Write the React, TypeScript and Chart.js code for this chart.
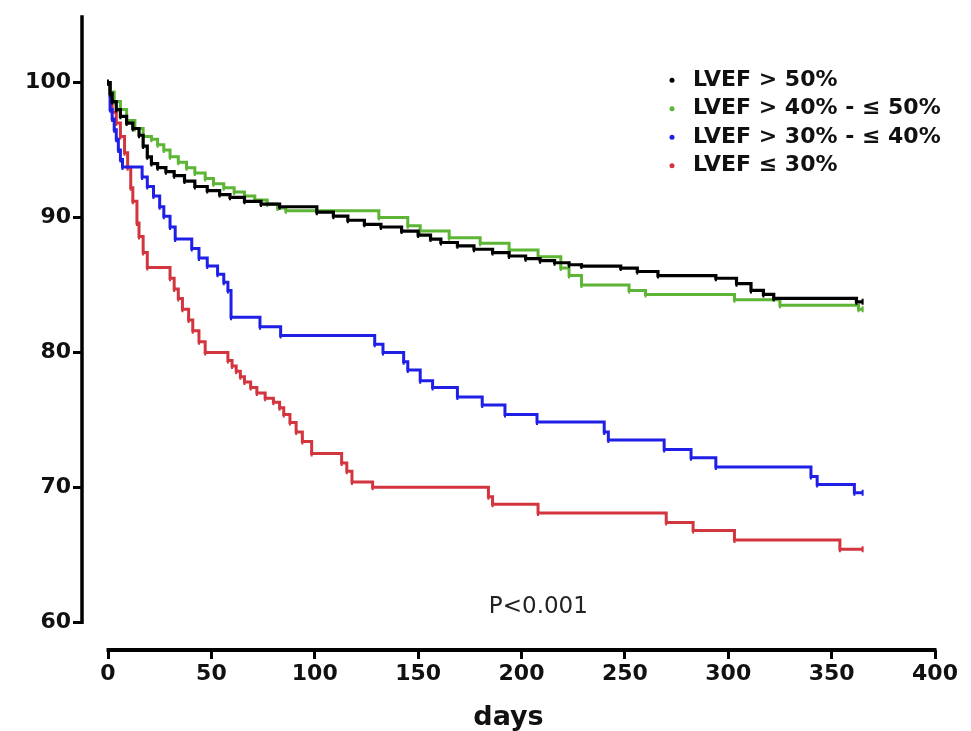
import React, { useEffect, useRef } from "react";
import { Chart, registerables } from "chart.js";

Chart.register(...registerables);

// ---- data ----
const xTicks = [0, 50, 100, 150, 200, 250, 300, 350, 400];
const yTicks = [60, 70, 80, 90, 100];
const seriesLabels = ["LVEF > 50%", "LVEF > 40% - \u2264 50%", "LVEF > 30% - \u2264 40%", "LVEF \u2264 30%"];
const seriesColors = ["#000000", "#5cb534", "#1f1fe6", "#d3353f"];
const xTitle = "days";
const pText = "P<0.001";

const blackDays = [0, 1, 2, 4, 6, 9, 12, 15, 17, 19, 21, 24, 28, 32, 37, 42, 48, 54, 59, 66, 74, 83, 101, 109, 116, 124, 132, 142, 150, 156, 161, 169, 177, 186, 194, 202, 209, 216, 223, 229, 248, 256, 266, 294, 304, 311, 317, 322, 362, 365];
const blackSurv = [100, 99.2, 98.6, 98.0, 97.5, 97.0, 96.6, 96.1, 95.3, 94.5, 94.0, 93.7, 93.4, 93.1, 92.7, 92.3, 92.0, 91.7, 91.5, 91.2, 91.0, 90.8, 90.4, 90.1, 89.8, 89.5, 89.3, 89.0, 88.7, 88.4, 88.15, 87.9, 87.65, 87.4, 87.15, 86.95, 86.8, 86.65, 86.5, 86.4, 86.25, 86.0, 85.7, 85.5, 85.1, 84.6, 84.3, 84.0, 83.75, 83.75];

const greenDays = [0, 1, 3, 6, 9, 13, 17, 21, 24, 27, 30, 34, 38, 42, 47, 51, 56, 61, 66, 71, 77, 82, 86, 131, 145, 151, 165, 180, 194, 208, 219, 223, 229, 252, 260, 303, 325, 363, 365];
const greenSurv = [100, 99.3, 98.6, 98.0, 97.2, 96.6, 96.0, 95.8, 95.4, 95.0, 94.5, 94.1, 93.7, 93.3, 92.9, 92.5, 92.2, 91.9, 91.6, 91.3, 91.0, 90.7, 90.5, 90.0, 89.4, 89.0, 88.5, 88.1, 87.6, 87.1, 86.25, 85.7, 85.0, 84.6, 84.3, 83.9, 83.5, 83.2, 83.2];

const blueDays = [0, 1, 2, 3, 4, 5, 6, 7, 16.5, 19, 22, 25, 27, 30, 32.5, 40.5, 44, 48, 53, 56, 58, 59.5, 73.5, 83.5, 129, 133, 143, 145, 151, 157, 169, 181, 192, 207.5, 240, 242, 269, 282, 294, 340, 343, 361, 365];
const blueSurv = [100, 98.0, 97.3, 96.5, 95.8, 95.0, 94.3, 93.75, 93.0, 92.3, 91.6, 90.8, 90.1, 89.3, 88.4, 87.7, 87.0, 86.4, 85.8, 85.2, 84.6, 82.6, 81.9, 81.25, 80.6, 80.0, 79.3, 78.7, 77.9, 77.4, 76.7, 76.1, 75.4, 74.85, 74.1, 73.5, 72.8, 72.2, 71.5, 70.8, 70.2, 69.6, 69.6];

const redDays = [0, 1, 2, 4, 6, 8, 9.5, 11, 12, 14, 15, 17, 19, 30, 32, 34, 36, 39, 41, 44, 47, 58, 60, 62, 64, 66, 69, 72, 76, 80, 83, 85, 88, 91, 94, 98.5, 113, 115.5, 118, 128, 184, 186, 208, 270, 283, 303, 354, 365];
const redSurv = [100, 99.0, 97.8, 97.0, 96.0, 94.8, 93.7, 92.2, 91.2, 89.6, 88.6, 87.4, 86.3, 85.5, 84.7, 84.0, 83.2, 82.4, 81.6, 80.8, 80.0, 79.4, 79.0, 78.6, 78.2, 77.8, 77.4, 77.0, 76.6, 76.3, 75.9, 75.4, 74.8, 74.1, 73.4, 72.5, 71.8, 71.2, 70.4, 70.0, 69.3, 68.75, 68.1, 67.4, 66.8, 66.1, 65.4, 65.4];

const seriesDays = [blackDays, greenDays, blueDays, redDays];
const seriesSurv = [blackSurv, greenSurv, blueSurv, redSurv];

const TICK_FONT = "'DejaVu Sans', 'Liberation Sans', Arial, sans-serif";

const overlayPlugin = {
  id: "gpOverlay",
  afterDraw(chart: any) {
    const { ctx, chartArea, scales } = chart;
    const xs = scales.x;
    const ys = scales.y;
    ctx.save();
    // GraphPad-style offset axes
    ctx.strokeStyle = "#000";
    ctx.lineWidth = 3.5;
    ctx.lineCap = "butt";
    ctx.beginPath();
    ctx.moveTo(chartArea.left, chartArea.top);
    ctx.lineTo(chartArea.left, ys.getPixelForValue(yTicks[0]) + 1.75);
    ctx.stroke();
    ctx.lineWidth = 4;
    ctx.beginPath();
    ctx.moveTo(xs.getPixelForValue(xTicks[0]) - 1.5, chartArea.bottom);
    ctx.lineTo(xs.getPixelForValue(xTicks[xTicks.length - 1]) + 1.5, chartArea.bottom);
    ctx.stroke();

    // legend
    const lx = chartArea.right - 242;
    const ly0 = chartArea.top + 65;
    const step = 28.5;
    ctx.font = `bold 22px ${TICK_FONT}`;
    ctx.textBaseline = "middle";
    ctx.textAlign = "left";
    chart.data.datasets.forEach((ds: any, i: number) => {
      const yy = ly0 + i * step;
      ctx.fillStyle = ds.borderColor;
      ctx.beginPath();
      ctx.arc(lx - 21, yy, 2.5, 0, Math.PI * 2);
      ctx.fill();
      ctx.fillStyle = "#111";
      ctx.fillText(ds.label, lx, yy);
    });

    // p-value
    ctx.font = `23px ${TICK_FONT}`;
    ctx.fillStyle = "#222";
    ctx.textAlign = "center";
    ctx.fillText(pText, chartArea.left + (chartArea.right - chartArea.left) * 0.535, 607);
    ctx.restore();
  },
};

export default function App() {
  const ref = useRef<HTMLCanvasElement | null>(null);

  useEffect(() => {
    document.body.style.margin = "0";
    document.body.style.overflow = "hidden";
    const canvas = ref.current;
    if (!canvas) return;
    const datasets = seriesLabels.map((label, i) => ({
      label,
      data: seriesDays[i].map((d, j) => ({ x: d, y: seriesSurv[i][j] })),
      borderColor: seriesColors[i],
      backgroundColor: seriesColors[i],
      borderWidth: i === 0 ? 3.2 : 3,
      stepped: true,
      fill: false,
      pointStyle: "line",
      pointRotation: 90,
      pointRadius: 3,
      pointBorderWidth: 2,
      pointHoverRadius: 3,
      order: i,
    }));
    const chart = new Chart(canvas, {
      type: "line",
      data: { datasets },
      options: {
        animation: false,
        responsive: true,
        maintainAspectRatio: false,
        layout: { padding: { left: 0, right: 36, top: 10, bottom: 0 } },
        plugins: { legend: { display: false }, tooltip: { enabled: false } },
        scales: {
          x: {
            type: "linear",
            min: -12.58,
            max: 400,
            afterBuildTicks: (axis: any) => {
              axis.ticks = xTicks.map((v) => ({ value: v }));
            },
            afterFit: (axis: any) => {
              axis.height = 81;
            },
            border: { display: false },
            grid: { display: true, drawOnChartArea: false, drawTicks: true, tickLength: 9, lineWidth: 3, color: "#000" },
            ticks: { color: "#111", padding: 2, maxRotation: 0, autoSkip: false, font: { family: TICK_FONT, size: 22, weight: "bold" } },
            title: { display: true, text: xTitle, color: "#111", padding: { top: 0, bottom: 0 }, font: { family: TICK_FONT, size: 27, weight: "bold", lineHeight: 1 } },
          },
          y: {
            type: "linear",
            min: 57.94,
            max: 105,
            afterBuildTicks: (axis: any) => {
              axis.ticks = yTicks.map((v) => ({ value: v }));
            },
            afterFit: (axis: any) => {
              axis.width = 82;
            },
            border: { display: false },
            grid: { display: true, drawOnChartArea: false, drawTicks: true, tickLength: 9, lineWidth: 3, color: "#000" },
            ticks: { color: "#111", padding: 2, autoSkip: false, font: { family: TICK_FONT, size: 22, weight: "bold" } },
          },
        },
      },
      plugins: [overlayPlugin],
    } as any);
    return () => chart.destroy();
  }, []);

  return (
    <div style={{ width: 971, height: 731, position: "relative", background: "#fff" }}>
      <canvas ref={ref} />
    </div>
  );
}
